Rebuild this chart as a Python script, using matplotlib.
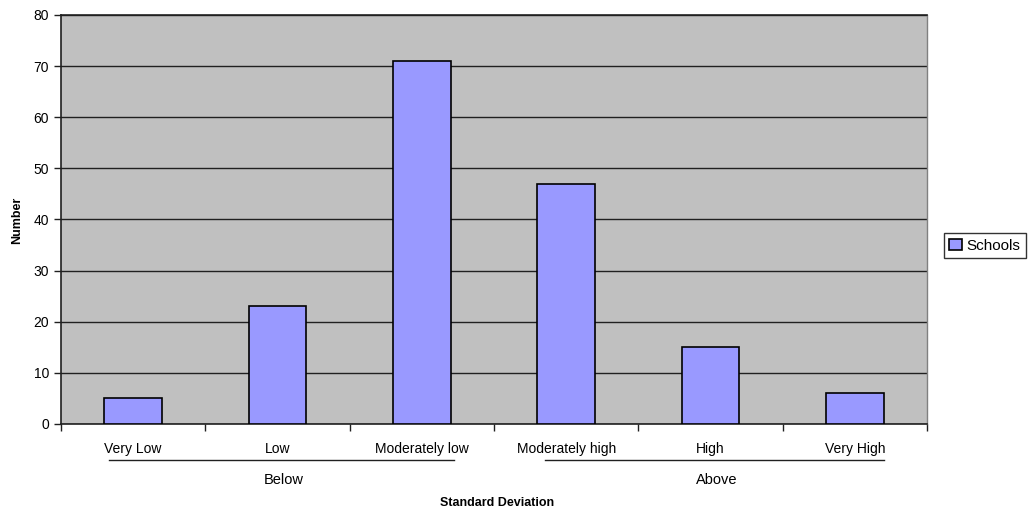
import numpy as np
import matplotlib.pyplot as plt
from matplotlib.transforms import blended_transform_factory

plt.rcParams['font.family'] = ['Liberation Sans', 'DejaVu Sans']

categories = ["Very Low", "Low", "Moderately low", "Moderately high", "High", "Very High"]
schools = [5, 23, 71, 47, 15, 6]
groups = ["Below", "Above"]
group_spans = [(-0.17, 2.22), (2.85, 5.2)]

fig = plt.figure(figsize=(10.28, 5.15), dpi=100)
ax = fig.add_axes([0.0593, 0.1767, 0.8425, 0.7942])
ax.set_facecolor("#C0C0C0")

x = np.arange(len(categories))
ax.bar(x, schools, width=0.4, color="#9999FF", edgecolor="black", linewidth=1.2,
       label="Schools", zorder=3)

ax.set_xlim(-0.5, len(categories) - 0.5)
ax.set_ylim(0, 80)
ax.set_yticks(np.arange(0, 81, 10))
ax.yaxis.grid(True, color="#202020", linewidth=1.0, zorder=1)
ax.set_axisbelow(True)

# boundary ticks on x, labels centred under bars
ax.set_xticks(np.arange(-0.5, len(categories), 1.0))
ax.set_xticklabels([])
ax.set_xticks(x, minor=True)
ax.set_xticklabels(categories, minor=True)
ax.tick_params(axis="x", which="major", length=5, width=1, color="#202020", direction="out")
ax.tick_params(axis="x", which="minor", length=0, pad=13, labelsize=10)
ax.tick_params(axis="y", length=5, width=1, color="#202020", direction="out", labelsize=10)

for s in ["left", "bottom", "top"]:
    ax.spines[s].set_color("#202020")
    ax.spines[s].set_linewidth(1.2)
ax.spines["right"].set_color("#808080")
ax.spines["right"].set_linewidth(1.0)

# group lines and labels under the category labels
trans = blended_transform_factory(ax.transData, ax.transAxes)
for name, (a, b) in zip(groups, group_spans):
    ax.plot([a, b], [-0.087, -0.087], color="#202020", linewidth=1, transform=trans,
            clip_on=False)
    ax.text((a + b) / 2 + 0.02, -0.138, name, transform=trans, ha="center", va="center",
            fontsize=10.5)

fig.text(0.4835, 0.023, "Standard Deviation", ha="center", va="center",
         fontsize=9, fontweight="bold")
fig.text(0.017, 0.573, "Number", ha="center", va="center", rotation=90,
         fontsize=9, fontweight="bold")

leg = fig.legend(loc="center", bbox_to_anchor=(0.958, 0.523), frameon=True, fancybox=False,
                 fontsize=11, handlelength=0.8, handleheight=0.8, handletextpad=0.3,
                 borderpad=0.35, borderaxespad=0)
leg.get_frame().set_edgecolor("black")
leg.get_frame().set_linewidth(1)

fig.savefig("out.png", dpi=100)
